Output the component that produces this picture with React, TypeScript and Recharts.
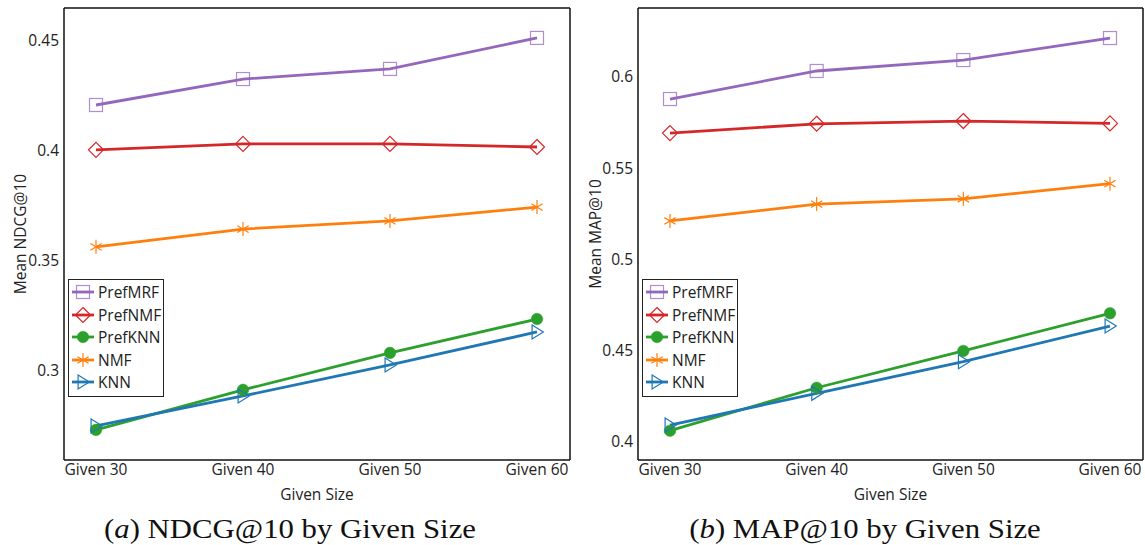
import React from 'react';
import { LineChart, Line, XAxis, YAxis, Legend } from 'recharts';

const categories = ['Given 30', 'Given 40', 'Given 50', 'Given 60'];

const ndcgPrefMRF = [0.4209, 0.4327, 0.4373, 0.4514];
const ndcgPrefNMF = [0.4005, 0.4032, 0.4032, 0.4018];
const ndcgPrefKNN = [0.2732, 0.2914, 0.3082, 0.3236];
const ndcgNMF = [0.3564, 0.3645, 0.3682, 0.3745];
const ndcgKNN = [0.2750, 0.2886, 0.3027, 0.3177];

const mapPrefMRF = [0.5879, 0.6033, 0.6093, 0.6214];
const mapPrefNMF = [0.5692, 0.5743, 0.5758, 0.5745];
const mapPrefKNN = [0.4057, 0.4293, 0.4495, 0.4702];
const mapNMF = [0.5209, 0.5302, 0.5331, 0.5414];
const mapKNN = [0.4088, 0.4262, 0.4436, 0.4632];

const ndcgTicks = [0.3, 0.35, 0.4, 0.45];
const mapTicks = [0.4, 0.45, 0.5, 0.55, 0.6];

const seriesNames = ['PrefMRF', 'PrefNMF', 'PrefKNN', 'NMF', 'KNN'];
const seriesColors: Record<string, string> = {
  PrefMRF: '#9467bd',
  PrefNMF: '#d62728',
  PrefKNN: '#2ca02c',
  NMF: '#ff7f0e',
  KNN: '#1f77b4',
};

const ndcgData = categories.map((c, i) => ({
  name: c,
  PrefMRF: ndcgPrefMRF[i],
  PrefNMF: ndcgPrefNMF[i],
  PrefKNN: ndcgPrefKNN[i],
  NMF: ndcgNMF[i],
  KNN: ndcgKNN[i],
}));

const mapData = categories.map((c, i) => ({
  name: c,
  PrefMRF: mapPrefMRF[i],
  PrefNMF: mapPrefNMF[i],
  PrefKNN: mapPrefKNN[i],
  NMF: mapNMF[i],
  KNN: mapKNN[i],
}));

const FONT = "'Open Sans', 'Noto Sans', sans-serif";
const FS = 15.5;

function Marker({ name, cx, cy }: { name: string; cx: number; cy: number }) {
  const c = seriesColors[name];
  if (name === 'PrefMRF') {
    const s = 6.5;
    return <rect x={cx - s} y={cy - s} width={2 * s} height={2 * s} fill="none" stroke={c} strokeOpacity={0.75} strokeWidth={1.2} />;
  }
  if (name === 'PrefNMF') {
    const s = 7.5;
    return (
      <polygon
        points={`${cx},${cy - s} ${cx + s},${cy} ${cx},${cy + s} ${cx - s},${cy}`}
        fill="none"
        stroke={c}
        strokeWidth={1.2}
      />
    );
  }
  if (name === 'PrefKNN') {
    return <circle cx={cx} cy={cy} r={5.8} fill={c} stroke={c} strokeWidth={0.5} />;
  }
  if (name === 'NMF') {
    const s = 7;
    const d = s * 0.8;
    return (
      <g stroke={c} strokeWidth={1.2}>
        <line x1={cx} y1={cy - s} x2={cx} y2={cy + s} />
        <line x1={cx - d} y1={cy - d * 0.6} x2={cx + d} y2={cy + d * 0.6} />
        <line x1={cx - d} y1={cy + d * 0.6} x2={cx + d} y2={cy - d * 0.6} />
      </g>
    );
  }
  const s = 7;
  return (
    <polygon
      points={`${cx - s * 0.7},${cy - s} ${cx + s * 0.9},${cy} ${cx - s * 0.7},${cy + s}`}
      fill="none"
      stroke={c}
      strokeWidth={1.2}
    />
  );
}

const makeDot = (name: string) => (props: any) => {
  const { cx, cy, index } = props;
  if (cx == null || cy == null) return <g key={`${name}-${index}`} />;
  return (
    <g key={`${name}-${index}`}>
      <Marker name={name} cx={cx} cy={cy} />
    </g>
  );
};

function LegendBox() {
  return (
    <div
      style={{
        border: '1.5px solid #222',
        background: 'white',
        padding: '1px 2px 2px 2px',
        fontFamily: FONT,
        fontSize: FS,
        color: '#222',
        width: 90,
        boxSizing: 'content-box',
      }}
    >
      {seriesNames.map((n) => (
        <div key={n} style={{ display: 'flex', alignItems: 'center', height: 22.5 }}>
          <svg width={25} height={18} style={{ marginRight: 2, flexShrink: 0 }}>
            <line x1={1} y1={9} x2={23} y2={9} stroke={seriesColors[n]} strokeWidth={2.8} />
            <Marker name={n} cx={12} cy={9} />
          </svg>
          <span style={{ whiteSpace: 'nowrap' }}>{n}</span>
        </div>
      ))}
    </div>
  );
}

function Panel({
  data,
  domain,
  ticks,
  yLabel,
  width,
  labelOffset,
}: {
  data: any[];
  domain: [number, number];
  ticks: number[];
  yLabel: string;
  width: number;
  labelOffset: number;
}) {
  const tickStyle = { fontFamily: FONT, fontSize: FS, fill: '#222' };
  const axisLine = { stroke: '#111', strokeWidth: 1.5 };
  return (
    <LineChart width={width} height={505} data={data} margin={{ top: 7, right: 1, bottom: 0, left: 0 }}>
      <XAxis
        dataKey="name"
        type="category"
        padding={{ left: 32, right: 33 }}
        tickLine={false}
        tickSize={0}
        tickMargin={4}
        tick={tickStyle}
        axisLine={axisLine}
        height={45}
        interval={0}
        label={{ value: 'Given Size', position: 'insideBottom', offset: 5, style: { fontFamily: FONT, fontSize: FS, fill: '#222' } }}
      />
      <XAxis
        xAxisId="top"
        dataKey="name"
        orientation="top"
        padding={{ left: 32, right: 33 }}
        tick={false}
        tickLine={false}
        height={1}
        axisLine={axisLine}
      />
      <YAxis
        type="number"
        domain={domain}
        ticks={ticks}
        allowDataOverflow
        tickLine={false}
        tickSize={0}
        tickMargin={5}
        tick={tickStyle}
        tickFormatter={(v: number) => String(v)}
        width={64}
        axisLine={axisLine}
        label={{
          value: yLabel,
          angle: -90,
          position: 'insideLeft',
          offset: labelOffset,
          style: { textAnchor: 'middle', fontFamily: FONT, fontSize: FS, fill: '#222' },
        }}
      />
      <YAxis
        yAxisId="right"
        orientation="right"
        type="number"
        domain={domain}
        allowDataOverflow
        tick={false}
        tickLine={false}
        width={1}
        axisLine={axisLine}
      />
      <Legend
        layout="vertical"
        align="center"
        verticalAlign="middle"
        content={() => <LegendBox />}
        wrapperStyle={{ left: 68, top: 279, width: 'auto', height: 'auto' }}
      />
      {seriesNames.map((n) => (
        <Line
          key={n}
          dataKey={n}
          stroke={seriesColors[n]}
          strokeWidth={2.8}
          dot={makeDot(n)}
          activeDot={false}
          isAnimationActive={false}
          legendType="none"
        />
      ))}
    </LineChart>
  );
}

const captionStyle: React.CSSProperties = {
  position: 'absolute',
  top: 514,
  fontFamily: "'Liberation Serif', 'DejaVu Serif', serif",
  fontSize: 27,
  lineHeight: '30px',
  color: '#111',
  whiteSpace: 'nowrap',
  transform: 'translateX(-50%) scaleX(1.14)',
};

export default function App() {
  return (
    <div style={{ position: 'absolute', left: 0, top: 0, width: 1145, height: 545, background: 'white', overflow: 'hidden' }}>
      <div style={{ position: 'absolute', left: 0, top: 0 }}>
        <Panel data={ndcgData} domain={[0.2595, 0.465]} ticks={ndcgTicks} yLabel="Mean NDCG@10" width={572} labelOffset={20} />
      </div>
      <div style={{ position: 'absolute', left: 574, top: 0 }}>
        <Panel data={mapData} domain={[0.3896, 0.6379]} ticks={mapTicks} yLabel="Mean MAP@10" width={571} labelOffset={21} />
      </div>
      <div style={{ ...captionStyle, left: 290 }}>
        (<i>a</i>) NDCG@10 by Given Size
      </div>
      <div style={{ ...captionStyle, left: 865 }}>
        (<i>b</i>) MAP@10 by Given Size
      </div>
    </div>
  );
}
